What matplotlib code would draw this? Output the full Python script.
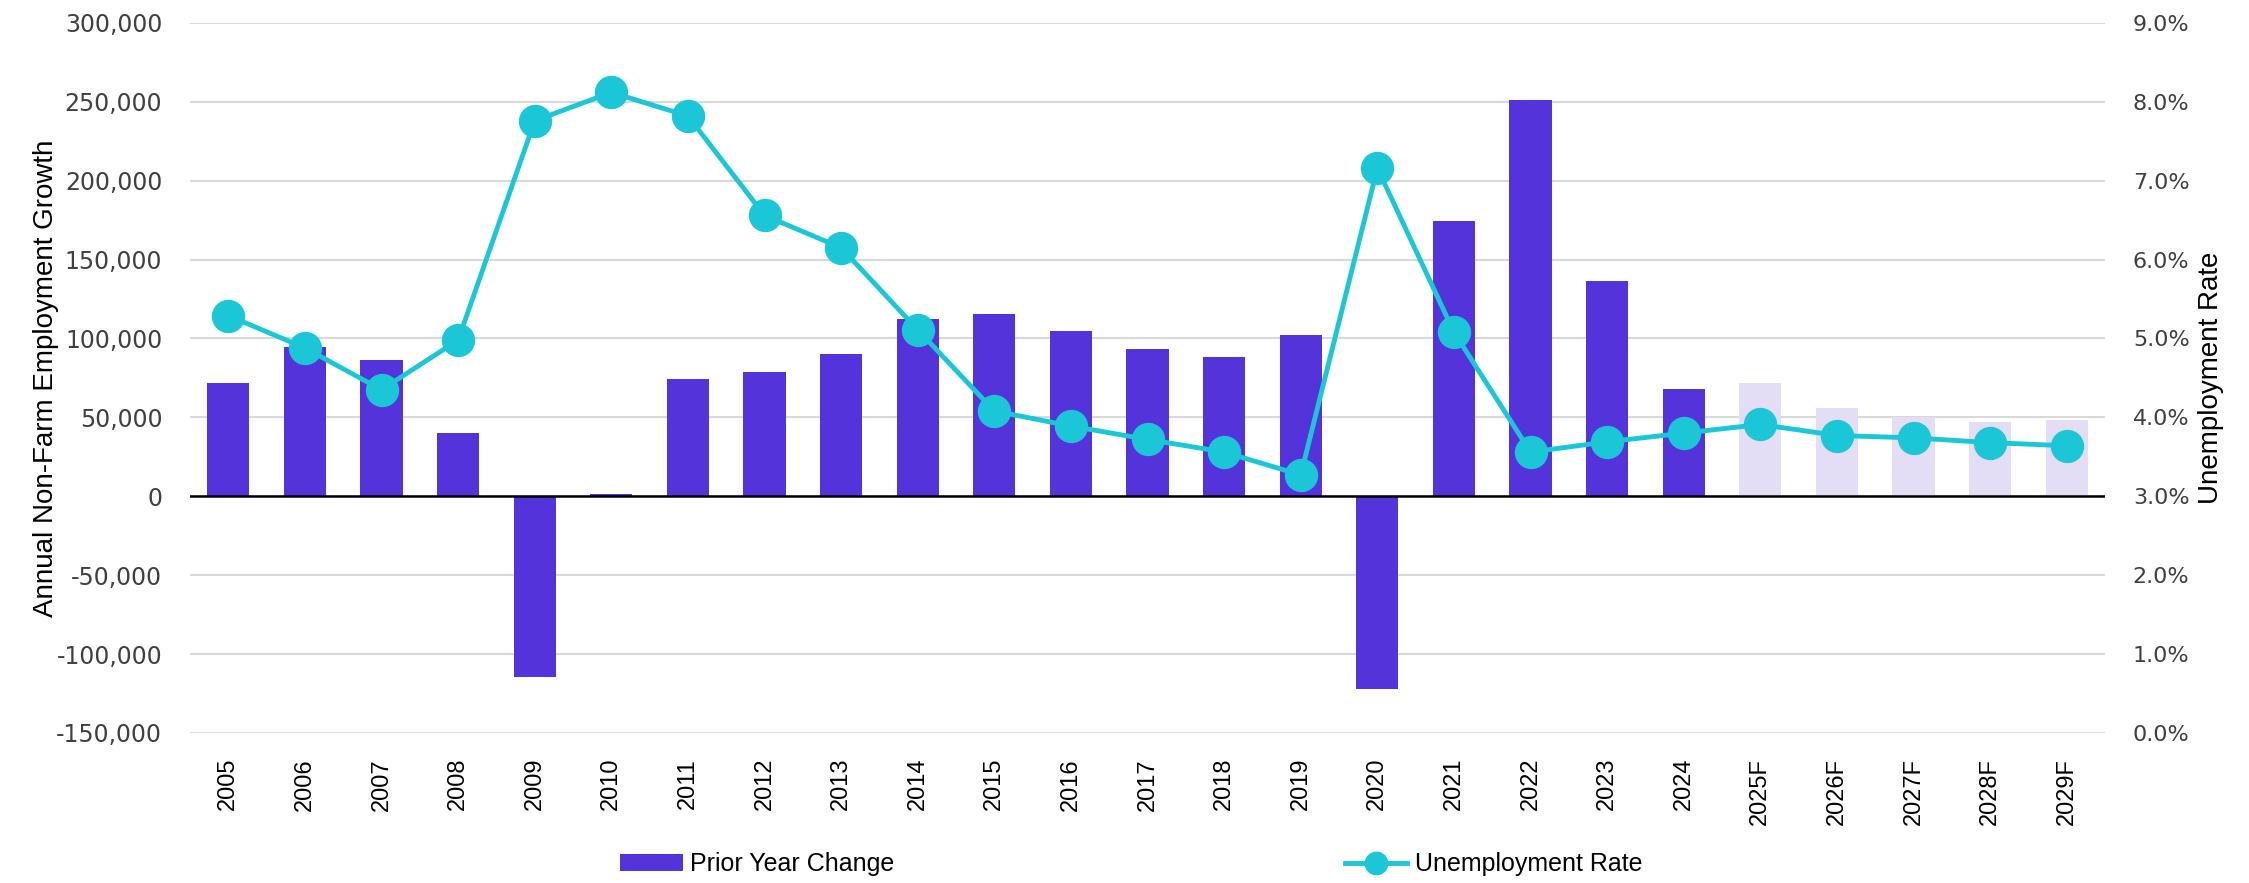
import numpy as np
import matplotlib.pyplot as plt
from matplotlib.ticker import FuncFormatter

# 数据
years = ['2005', '2006', '2007', '2008', '2009', '2010', '2011', '2012', '2013', '2014',
         '2015', '2016', '2017', '2018', '2019', '2020', '2021', '2022', '2023', '2024',
         '2025F', '2026F', '2027F', '2028F', '2029F']
job_change = [72000, 94500, 86500, 40000, -114500, 1200, 74500, 79000, 90000, 112500,
              115500, 104500, 93500, 88000, 102000, -122000, 174500, 251000, 136500, 68000,
              72000, 56000, 50000, 47000, 48500]
unemp_rate = [5.29, 4.88, 4.35, 4.98, 7.76, 8.12, 7.82, 6.56, 6.15, 5.11,
              4.08, 3.89, 3.72, 3.56, 3.27, 7.16, 5.08, 3.56, 3.69, 3.80,
              3.91, 3.77, 3.74, 3.68, 3.64]
is_forecast = [y.endswith('F') for y in years]

bar_col = '#5433DB'
fc_col = '#E4DDF6'
line_col = '#1BC7D6'
txt_col = '#404040'

x = np.arange(len(years))

fig = plt.figure(figsize=(22.49, 8.83), dpi=100)
ax = fig.add_axes([0.0845, 0.170, 0.8515, 0.804])
ax2 = ax.twinx()

colors = [fc_col if f else bar_col for f in is_forecast]
ax.bar(x, job_change, width=0.55, color=colors, zorder=2, label='Prior Year Change')
ax.set_ylim(-150000, 300000)
ax.set_yticks(np.arange(-150000, 300001, 50000))
ax.yaxis.set_major_formatter(FuncFormatter(lambda v, p: f'{int(v):,}'))
ax.grid(axis='y', color='#D9D9D9', lw=1.5, zorder=0)
ax.axhline(0, color='black', lw=1.8, zorder=3)
ax.set_xlim(-0.5, len(years) - 0.5)
ax.set_xticks(x)
ax.set_xticklabels(years, rotation=90, fontsize=17, family='Liberation Sans', color='black')
ax.tick_params(axis='y', labelsize=17, colors=txt_col, length=0, pad=20)
ax.tick_params(axis='x', length=0, pad=18)
ax.set_ylabel('Annual Non-Farm Employment Growth', fontsize=20, family='Liberation Sans', labelpad=-2)
for s in ax.spines.values():
    s.set_visible(False)

ax2.plot(x, unemp_rate, color=line_col, lw=3.5, marker='o', ms=23, zorder=4,
         label='Unemployment Rate')
ax2.set_ylim(0, 9)
ax2.set_yticks(np.arange(0, 9.01, 1))
ax2.yaxis.set_major_formatter(FuncFormatter(lambda v, p: f'{v:.1f}%'))
ax2.tick_params(axis='y', labelsize=16, colors=txt_col, length=0, pad=20)
ax2.set_ylabel('Unemployment Rate', fontsize=20, family='Liberation Sans', labelpad=6)
for s in ax2.spines.values():
    s.set_visible(False)

h1, l1 = ax.get_legend_handles_labels()
h2, l2 = ax2.get_legend_handles_labels()
fig.legend(h1 + h2, l1 + l2, loc='center', bbox_to_anchor=(0.503, 0.021), ncol=2,
           frameon=False, prop={'family': 'Liberation Sans', 'size': 18},
           columnspacing=18, handlelength=2.5, handletextpad=0.3, markerscale=0.7)

plt.savefig('out.png', dpi=100)
